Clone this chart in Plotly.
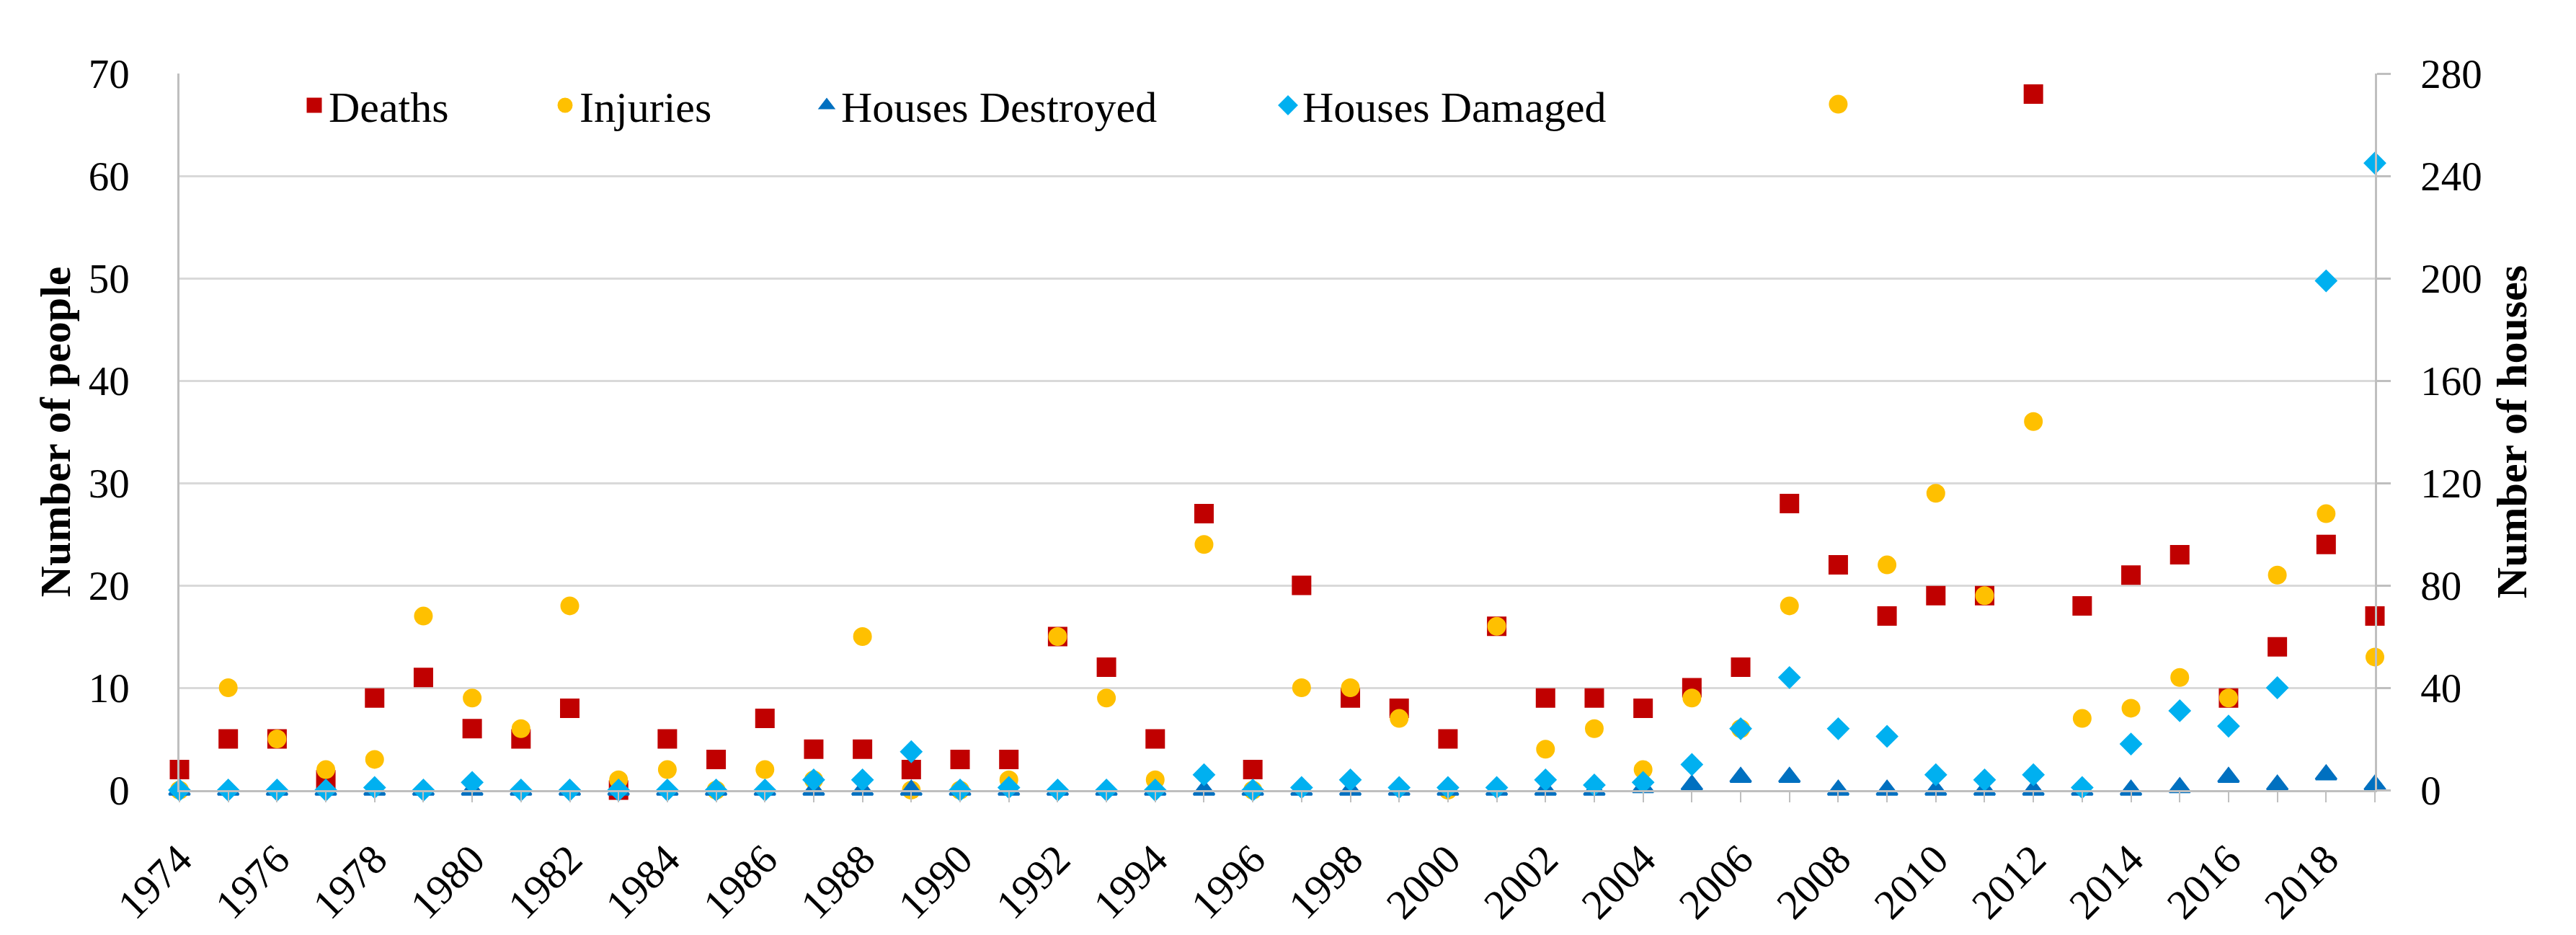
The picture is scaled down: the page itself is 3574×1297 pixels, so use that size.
import plotly.graph_objects as go

years = list(range(1974, 2020))

deaths = [2, 5, 5, 1, 9, 11, 6, 5, 8, 0,
          5, 3, 7, 4, 4, 2, 3, 3, 15, 12,
          5, 27, 2, 20, 9, 8, 5, 16, 9, 9,
          8, 10, 12, 28, 22, 17, 19, 19, 68, 18,
          21, 23, 9, 14, 24, 17]

injuries = [0, 10, 5, 2, 3, 17, 9, 6, 18, 1,
            2, 0, 2, 1, 15, 0, 0, 1, 15, 9,
            1, 24, 0, 10, 10, 7, 0, 16, 4, 6,
            2, 9, 6, 18, 67, 22, 29, 19, 36, 7,
            8, 11, 9, 21, 27, 13]

houses_destroyed = [0, 0, 0, 0, 0, 0, 0, 0, 0, 0,
                    0, 0, 0, 0, 0, 0, 0, 0, 0, 0,
                    0, 0, 0, 0, 0, 0, 0, 0, 0, 0,
                    1, 2, 5, 5, 0, 0, 0, 0, 0, 0,
                    0, 1, 5, 2, 6, 2]

houses_damaged = [0, 0, 0, 0, 1, 0, 3, 0, 0, 0,
                  0, 0, 0, 4, 4, 15, 0, 1, 0, 0,
                  0, 6, 0, 1, 4, 1, 1, 1, 4, 2,
                  3, 10, 24, 44, 24, 21, 6, 4, 6, 1,
                  18, 31, 25, 40, 199, 245]

W, H = 3574, 1297
L, R, T, B = 241, 3287, 94, 1088
FONT = "Liberation Serif"
GRID = "#d9d9d9"
AXIS = "#bfbfbf"
LW = 5  # marker outline in the fill colour (enlarges legend symbols too)

fig = go.Figure()

fig.add_trace(go.Scatter(x=years, y=deaths, name="Deaths", mode="markers",
                         marker=dict(symbol="square", size=22, color="#C00000",
                                     line=dict(color="#C00000", width=LW)),
                         cliponaxis=False, legend="legend"))
fig.add_trace(go.Scatter(x=years, y=injuries, name="Injuries", mode="markers",
                         marker=dict(symbol="circle", size=21, color="#FFC000",
                                     line=dict(color="#FFC000", width=LW)),
                         cliponaxis=False, legend="legend2"))
fig.add_trace(go.Scatter(x=years, y=houses_destroyed, name="Houses Destroyed", mode="markers",
                         marker=dict(symbol="triangle-up", size=25, color="#0070C0",
                                     line=dict(color="#0070C0", width=3)),
                         cliponaxis=False, yaxis="y2", legend="legend3"))
fig.add_trace(go.Scatter(x=years, y=houses_damaged, name="Houses Damaged", mode="markers",
                         marker=dict(symbol="diamond", size=19, color="#00B0F0",
                                     line=dict(color="#00B0F0", width=LW)),
                         cliponaxis=False, yaxis="y2", legend="legend4"))

pw = R - L
def px2paper(px):
    return (px - L) / pw

leg_y = (B - 138) / (B - T)
def leg(text_start):
    return dict(x=px2paper(text_start - 48), y=leg_y, xanchor="left", yanchor="middle",
                orientation="h", bgcolor="rgba(0,0,0,0)",
                font=dict(family=FONT, size=60, color="black"))

fig.update_layout(
    width=W, height=H,
    margin=dict(l=L, r=W - R, t=T, b=H - B, autoexpand=False),
    paper_bgcolor="white", plot_bgcolor="white",
    font=dict(family=FONT, color="black"),
    showlegend=True,
    legend=leg(456),
    legend2=leg(804),
    legend3=leg(1167),
    legend4=leg(1807),
    xaxis=dict(
        range=[1974, 2019], tickmode="linear", tick0=1974, dtick=2,
        tickangle=-45, tickfont=dict(family=FONT, size=58, color="black"),
        ticks="outside", ticklen=14, tickwidth=2, tickcolor=AXIS,
        minor=dict(tick0=1974, dtick=1, ticks="outside", ticklen=14, tickwidth=2,
                   tickcolor=AXIS, showgrid=False),
        showline=True, linecolor=AXIS, linewidth=2.5,
        showgrid=False, zeroline=False, ticklabelstandoff=22,
    ),
    yaxis=dict(
        range=[0, 70], tickmode="linear", tick0=0, dtick=10,
        tickfont=dict(family=FONT, size=57, color="black"),
        showline=True, linecolor=AXIS, linewidth=2.5,
        showgrid=True, gridcolor=GRID, gridwidth=2.5, zeroline=False,
        ticks="", ticklabelstandoff=55,
        title=dict(text="Number of people", standoff=6,
                   font=dict(family=FONT, size=60, color="black", weight="bold")),
    ),
    yaxis2=dict(
        range=[0, 280], tickmode="linear", tick0=0, dtick=40,
        overlaying="y", side="right",
        tickfont=dict(family=FONT, size=57, color="black"),
        showline=True, linecolor=AXIS, linewidth=2.5,
        showgrid=False, zeroline=False,
        ticks="outside", ticklen=19, tickwidth=2.5, tickcolor=AXIS,
        ticklabelstandoff=30,
        title=dict(text="Number of houses", standoff=21,
                   font=dict(family=FONT, size=60, color="black", weight="bold")),
    ),
)

fig.write_html("out.html")
